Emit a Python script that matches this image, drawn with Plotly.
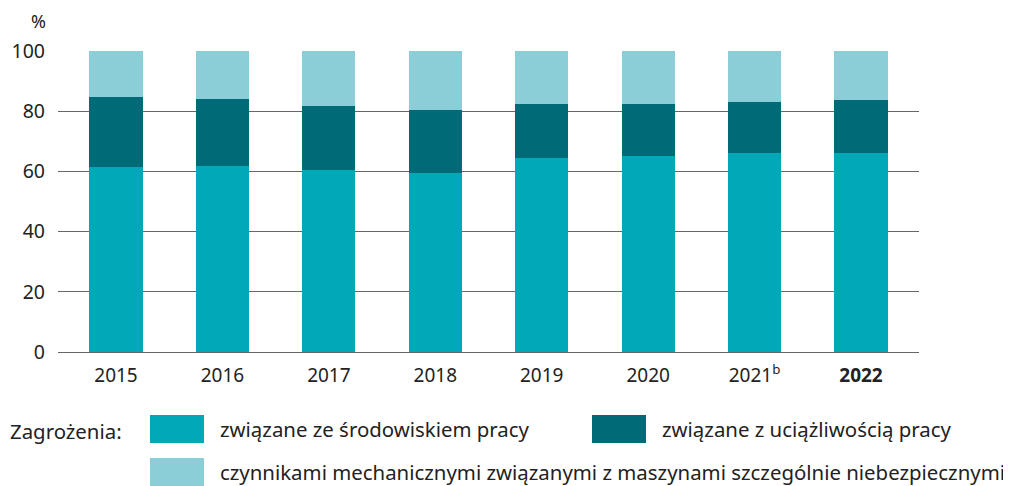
import plotly.graph_objects as go

# Data
years = ['2015', '2016', '2017', '2018', '2019', '2020', '2021<sup>b</sup>', '<b>2022</b>']
srodowisko = [61.6, 61.9, 60.4, 59.5, 64.5, 65.0, 66.0, 66.0]
uciazliwosc = [23.2, 22.1, 21.3, 20.9, 17.9, 17.4, 17.1, 17.7]
mechaniczne = [15.2, 16.0, 18.3, 19.6, 17.6, 17.6, 16.9, 16.3]

names = ['związane ze środowiskiem pracy',
         'związane z uciążliwością pracy',
         'czynnikami mechanicznymi związanymi z maszynami szczególnie niebezpiecznymi']
colors = ['#00A8B8', '#006B76', '#8BCED7']

FONT = 'Noto Sans'
TXT = '#222222'

fig = go.Figure()
for vals, name, col in zip([srodowisko, uciazliwosc, mechaniczne], names, colors):
    fig.add_trace(go.Bar(x=years, y=vals, name=name, marker=dict(color=col, line=dict(width=0)),
                         width=0.5, showlegend=False))

# page has an 8px body margin, so the figure is a bit smaller than the window
fig.update_layout(
    barmode='stack',
    width=1003, height=478,
    margin=dict(l=50, r=92, t=43, b=134),
    plot_bgcolor='white', paper_bgcolor='white',
    font=dict(family=FONT, size=20.4, color=TXT),
    xaxis=dict(range=[-0.545, 7.545], showgrid=False, showline=False, ticks='',
               automargin=False, ticklabelstandoff=10, tickfont=dict(size=19)),
    yaxis=dict(range=[0, 100], dtick=20, showgrid=True, gridcolor='#666666', gridwidth=1,
               zeroline=True, zerolinecolor='#666666', zerolinewidth=1, automargin=False,
               ticks='', ticklabelstandoff=12, tickfont=dict(size=19.5)),
)

# y-axis unit label
fig.add_annotation(text='%', xref='paper', yref='paper', x=-0.012, y=(352 - 21) / 301,
                   xanchor='right', yanchor='middle', showarrow=False, font=dict(size=18))

# custom legend
fig.add_annotation(text='Zagrożenia:', xref='paper', yref='paper', x=(8 - 58) / 861,
                   y=(352 - 431) / 301, xanchor='left', yanchor='middle', showarrow=False)
legend_pos = [(150, 429), (592, 429), (150, 472)]
for (px, py), name, col in zip(legend_pos, names, colors):
    fig.add_shape(type='rect', xref='paper', yref='paper',
                  x0=(px - 58) / 861, x1=(px + 54 - 58) / 861,
                  y0=(352 - py + 14) / 301, y1=(352 - py - 14) / 301,
                  fillcolor=col, line=dict(width=0))
    fig.add_annotation(text=name, xref='paper', yref='paper', x=(px + 68 - 58) / 861,
                       y=(352 - py) / 301, xanchor='left', yanchor='middle', showarrow=False)

fig.write_html('out.html')
